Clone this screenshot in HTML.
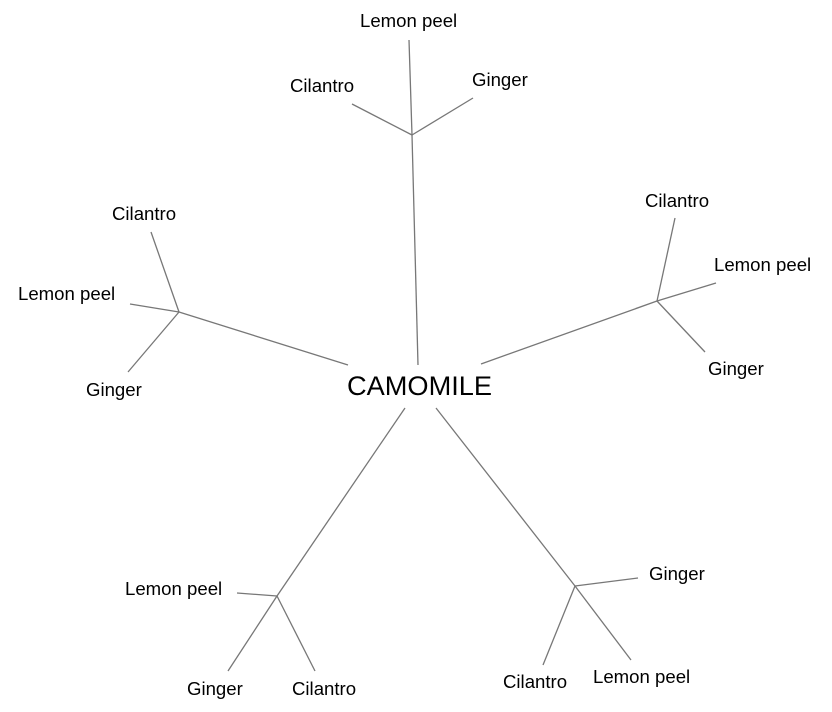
<!DOCTYPE html>
<html><head><style>html,body{margin:0;padding:0;background:#fff;width:832px;height:712px;overflow:hidden}</style></head>
<body>
<svg width="832" height="712" xmlns="http://www.w3.org/2000/svg" font-family="Liberation Sans, Arial, sans-serif">
<g stroke="#777" stroke-width="1.3" fill="none">
<line x1="418" y1="365" x2="412" y2="135"/>
<line x1="412" y1="135" x2="409" y2="40"/>
<line x1="412" y1="135" x2="352" y2="104"/>
<line x1="412" y1="135" x2="473" y2="98"/>
<line x1="348" y1="365" x2="179" y2="312"/>
<line x1="179" y1="312" x2="151" y2="232"/>
<line x1="179" y1="312" x2="130" y2="304"/>
<line x1="179" y1="312" x2="128" y2="372"/>
<line x1="481" y1="364" x2="657" y2="301"/>
<line x1="657" y1="301" x2="675" y2="218"/>
<line x1="657" y1="301" x2="716" y2="283"/>
<line x1="657" y1="301" x2="705" y2="352"/>
<line x1="405" y1="408" x2="277" y2="596"/>
<line x1="277" y1="596" x2="237" y2="593"/>
<line x1="277" y1="596" x2="228" y2="671"/>
<line x1="277" y1="596" x2="315" y2="671"/>
<line x1="436" y1="408" x2="575" y2="586"/>
<line x1="575" y1="586" x2="638" y2="578"/>
<line x1="575" y1="586" x2="543" y2="665"/>
<line x1="575" y1="586" x2="631" y2="660"/>
</g>
<text x="347" y="395" font-size="27.2" fill="#000">CAMOMILE</text>
<g font-size="18.6" fill="#000">
<text x="360" y="27">Lemon peel</text>
<text x="290" y="92">Cilantro</text>
<text x="472" y="86">Ginger</text>
<text x="112" y="220">Cilantro</text>
<text x="18" y="300">Lemon peel</text>
<text x="86" y="396">Ginger</text>
<text x="645" y="207">Cilantro</text>
<text x="714" y="271">Lemon peel</text>
<text x="708" y="375">Ginger</text>
<text x="125" y="595">Lemon peel</text>
<text x="187" y="695">Ginger</text>
<text x="292" y="695">Cilantro</text>
<text x="649" y="580">Ginger</text>
<text x="503" y="688">Cilantro</text>
<text x="593" y="683">Lemon peel</text>
</g>
</svg>
</body></html>
